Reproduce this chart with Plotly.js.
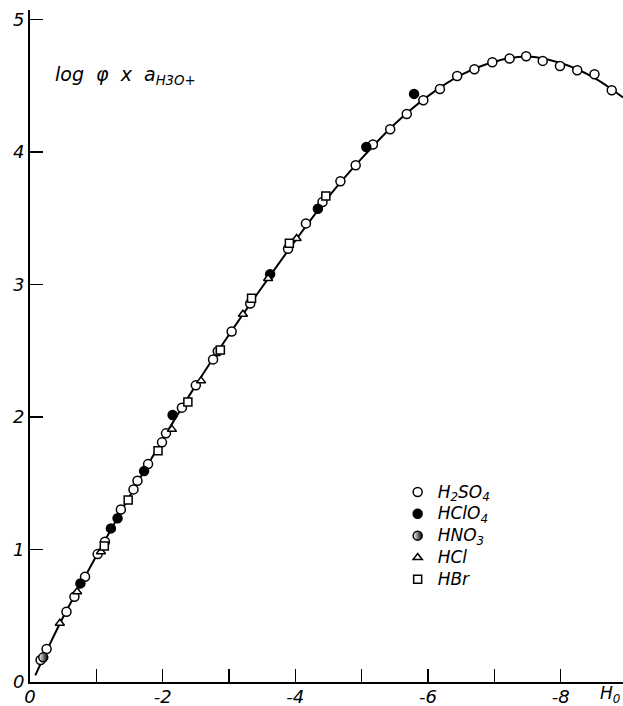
<!DOCTYPE html>
<html>
<head>
<meta charset="utf-8">
<script src="https://cdn.plot.ly/plotly-3.0.1.min.js"></script>
<style>html,body{margin:0;padding:0;background:#fff;}#chart{width:623px;height:706px;}</style>
</head>
<body>
<div id="chart"></div>
<script>
// Smooth curve (H0 values are negative)
const curveH0 = [-0.08, -0.5, -1, -1.5, -2, -2.5, -3, -3.5, -4, -4.5, -5, -5.5, -6, -6.5, -7, -7.5, -8, -8.5, -8.94];
const curveY  = [0.05, 0.49, 0.95, 1.40, 1.83, 2.24, 2.62, 2.98, 3.33, 3.66, 3.95, 4.21, 4.42, 4.58, 4.68, 4.72, 4.67, 4.56, 4.41];

// H2SO4 (open circles)
const h2so4X = [-0.16, -0.25, -0.55, -0.67, -0.83, -1.02, -1.13, -1.37, -1.56, -1.62, -1.78, -1.99, -2.05, -2.29, -2.50, -2.76, -3.04, -3.32, -3.89, -4.16, -4.41, -4.68, -4.91, -5.17, -5.43, -5.68, -5.93, -6.18, -6.44, -6.70, -6.97, -7.23, -7.48, -7.73, -7.99, -8.25, -8.51, -8.77];
const h2so4Y = [0.166, 0.249, 0.530, 0.643, 0.794, 0.965, 1.058, 1.302, 1.453, 1.518, 1.644, 1.808, 1.876, 2.070, 2.238, 2.434, 2.645, 2.856, 3.269, 3.460, 3.622, 3.778, 3.899, 4.055, 4.170, 4.285, 4.389, 4.474, 4.572, 4.623, 4.676, 4.704, 4.721, 4.686, 4.648, 4.615, 4.585, 4.465];

// HClO4 (filled circles)
const hclo4X = [-0.76, -1.22, -1.32, -1.72, -2.15, -3.62, -4.34, -5.07, -5.79];
const hclo4Y = [0.744, 1.159, 1.235, 1.591, 2.014, 3.077, 3.571, 4.037, 4.437];

// HNO3 (half-filled circles)
const hno3X = [-0.20, -2.83];
const hno3Y = [0.186, 2.496];

// HCl (triangles)
const hclX = [-0.45, -0.71, -1.07, -2.14, -2.58, -3.21, -3.59, -4.02];
const hclY = [0.443, 0.681, 0.983, 1.906, 2.272, 2.775, 3.044, 3.346];

// HBr (squares)
const hbrX = [-1.12, -1.48, -1.93, -2.38, -2.87, -3.34, -3.91, -4.46];
const hbrY = [1.026, 1.373, 1.744, 2.112, 2.504, 2.896, 3.311, 3.667];

const xTickVals = [0, -2, -4, -6, -8];
const xTickText = ['0', '-2', '-4', '-6', '-8'];
const yTickVals = [0, 1, 2, 3, 4, 5];
const yTickText = ['0', '1', '2', '3', '4', '5'];

const FONT = 'DejaVu Sans, Liberation Sans, sans-serif';
const mk = (symbol, fill, extra) => Object.assign({
  symbol: symbol, size: 9, color: fill,
  line: {color: '#000', width: 1.5}
}, extra || {});
const big = s => '<span style="font-size:17px">' + s + '</span>';

const traces = [
  {x: curveH0, y: curveY, mode: 'lines', line: {color: '#000', width: 2, shape: 'spline', smoothing: 1}, showlegend: false, hoverinfo: 'skip'},
  {x: h2so4X, y: h2so4Y, mode: 'markers', name: big('H<sub>2</sub>SO<sub>4</sub>'), marker: mk('circle', '#fff')},
  {x: hclo4X, y: hclo4Y, mode: 'markers', name: big('HClO<sub>4</sub>'), marker: mk('circle', '#000')},
  {x: hno3X, y: hno3Y, mode: 'markers', name: big('HNO<sub>3</sub>'), marker: mk('circle', '#fff', {gradient: {type: 'horizontal', color: '#000'}})},
  {x: hclX, y: hclY, mode: 'markers', name: big('HCl'), marker: mk('triangle-up', '#fff', {size: 8})},
  {x: hbrX, y: hbrY, mode: 'markers', name: big('HBr'), marker: mk('square', '#fff', {size: 8})}
];

const axisCommon = {
  showgrid: false, zeroline: false,
  showline: true, linecolor: '#000', linewidth: 2,
  ticks: 'inside', ticklen: 13, tickwidth: 1.5, tickcolor: '#000',
  tickmode: 'array',
  tickfont: {family: FONT, size: 18, style: 'italic', color: '#000'}
};

const layout = {
  width: 623, height: 706,
  margin: {l: 30, r: 0, t: 10, b: 24},
  paper_bgcolor: '#fff', plot_bgcolor: '#fff',
  font: {family: FONT, size: 17, color: '#000', style: 'italic'},
  xaxis: Object.assign({}, axisCommon, {
    range: [0, -8.94], tickvals: xTickVals, ticktext: xTickText,
    ticklabelstandoff: -3,
    minor: {tickmode: 'linear', tick0: 0, dtick: 1, ticks: 'inside', ticklen: 13, tickwidth: 1.5, tickcolor: '#000', showgrid: false}
  }),
  yaxis: Object.assign({}, axisCommon, {
    range: [0, 5.07], tickvals: yTickVals, ticktext: yTickText
  }),
  legend: {
    x: 0.62, xanchor: 'left', y: 0.3065, yanchor: 'top',
    bgcolor: 'rgba(0,0,0,0)', borderwidth: 0,
    font: {family: FONT, size: 14.5, style: 'italic', color: '#000'}
  },
  annotations: [
    {xref: 'paper', yref: 'paper', x: (53 - 30) / 593, y: (682 - 75) / 672, xanchor: 'left', yanchor: 'middle',
     text: 'log\u00a0\u00a0φ\u00a0\u00a0x\u00a0\u00a0a<sub>H3O+</sub>', showarrow: false,
     font: {family: FONT, size: 19, style: 'italic', color: '#000'}},
    {xref: 'paper', yref: 'paper', x: (622 - 30) / 593, y: (682 - 694) / 672, xanchor: 'right', yanchor: 'middle',
     text: 'H<sub>0</sub>', showarrow: false, font: {family: FONT, size: 17, style: 'italic', color: '#000'}}
  ],
  showlegend: true
};

Plotly.newPlot('chart', traces, layout, {displayModeBar: false, staticPlot: true});
</script>
</body>
</html>
